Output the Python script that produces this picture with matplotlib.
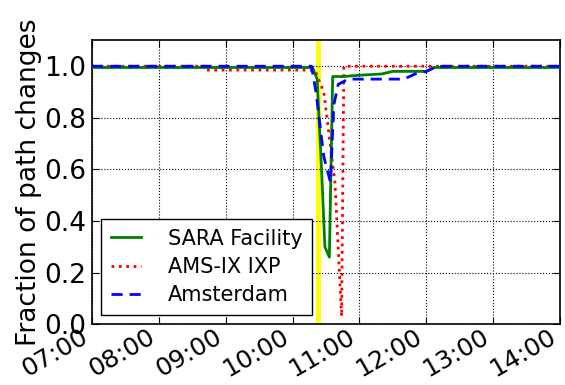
import matplotlib
matplotlib.use("Agg")
import matplotlib.pyplot as plt
import matplotlib.dates as mdates
import pandas as pd

day = "2015-05-13 "

sara_times = ["07:00", "10:18", "10:22", "10:26", "10:29", "10:33", "10:36", "10:45",
              "11:00", "11:20", "11:30", "12:00", "12:07", "14:00"]
sara_vals = [0.995, 0.995, 0.95, 0.60, 0.30, 0.26, 0.96, 0.96,
             0.965, 0.97, 0.98, 0.98, 0.995, 0.995]

amsix_times = ["07:00", "08:42", "08:43", "10:20", "10:28", "10:38", "10:44", "10:46", "14:00"]
amsix_vals = [1.0, 1.0, 0.985, 0.985, 0.90, 0.55, 0.03, 1.0, 1.0]

ams_times = ["07:00", "10:17", "10:21", "10:28", "10:34", "10:37", "10:41", "10:50",
             "11:40", "11:50", "12:00", "12:10", "14:00"]
ams_vals = [1.0, 1.0, 0.90, 0.65, 0.55, 0.85, 0.93, 0.95,
            0.95, 0.97, 0.98, 1.0, 1.0]

outage_time = "10:23"


def to_dt(times):
    return pd.to_datetime([day + t for t in times])


fig, ax = plt.subplots(figsize=(5.65, 3.85), dpi=100)

ax.axvline(to_dt([outage_time])[0], color="yellow", linewidth=3.5, zorder=1)
ax.plot(to_dt(sara_times), sara_vals, color="green", linewidth=2, label="SARA Facility", zorder=3)
ax.plot(to_dt(amsix_times), amsix_vals, color="red", linestyle=":", linewidth=2, label="AMS-IX IXP", zorder=2)
ax.plot(to_dt(ams_times), ams_vals, color="blue", linestyle="--", linewidth=2, dashes=(4, 2.5),
        label="Amsterdam", zorder=4)

ax.set_xlim(to_dt(["07:00"])[0], to_dt(["14:00"])[0])
ax.set_ylim(0, 1.1)
ax.set_yticks([0.0, 0.2, 0.4, 0.6, 0.8, 1.0])
ax.xaxis.set_major_locator(mdates.HourLocator())
ax.xaxis.set_major_formatter(mdates.DateFormatter("%H:%M"))
ax.tick_params(direction="in", labelsize=19, length=5)
ax.tick_params(axis="y", right=True, pad=4)
ax.tick_params(axis="x", top=True, pad=0, labelsize=18)
plt.setp(ax.get_xticklabels(), rotation=30, ha="right")
ax.grid(True, linestyle=":", color="black", linewidth=0.8)
ax.set_ylabel("Fraction of path changes", fontsize=19, labelpad=2)

leg = ax.legend(loc="lower left", fontsize=15, fancybox=False, framealpha=1,
                edgecolor="black", handlelength=1.45, handletextpad=1.3,
                borderpad=0.45, labelspacing=0.4, borderaxespad=0.45)
leg.get_frame().set_linewidth(1.0)

for s in ax.spines.values():
    s.set_linewidth(1.2)

fig.subplots_adjust(left=0.163, right=0.991, top=0.895, bottom=0.158)
fig.savefig("out.png", dpi=100)
